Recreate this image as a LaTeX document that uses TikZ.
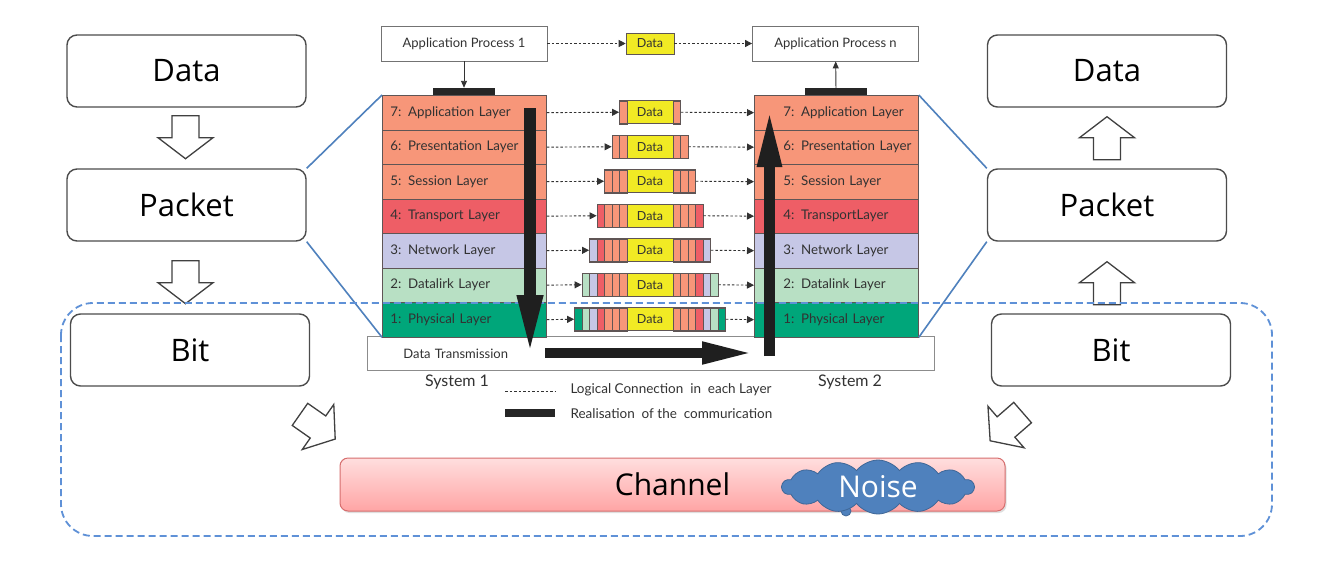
\documentclass[tikz,border=0pt]{standalone}
\usepackage{fontspec}
\setmainfont{Open Sans}
\newfontfamily\osifont{Lato}
\usetikzlibrary{arrows.meta,calc,shapes.symbols,shadows}

\definecolor{laysalmon}{RGB}{247,150,121}
\definecolor{layred}{RGB}{238,94,102}
\definecolor{laylav}{RGB}{198,199,230}
\definecolor{laymint}{RGB}{184,224,196}
\definecolor{layteal}{RGB}{0,166,122}
\definecolor{datayellow}{RGB}{241,234,36}
\definecolor{osiline}{RGB}{95,85,85}
\definecolor{ositext}{RGB}{50,50,50}
\definecolor{linkblue}{RGB}{79,129,189}
\definecolor{zoneblue}{RGB}{95,145,215}
\definecolor{noiseblue}{RGB}{79,129,189}
\definecolor{chantop}{RGB}{255,222,222}
\definecolor{chanbot}{RGB}{255,165,165}
\definecolor{chanline}{RGB}{215,110,110}
\colorlet{lay7}{laysalmon}
\colorlet{lay6}{laysalmon}
\colorlet{lay5}{laysalmon}
\colorlet{lay4}{layred}
\colorlet{lay3}{laylav}
\colorlet{lay2}{laymint}
\colorlet{lay1}{layteal}

\begin{document}
\begin{tikzpicture}[x=1pt, y=-1pt,
    stagebox/.style={draw=black!70, line width=1.4pt, rounded corners=10pt, fill=white,
        minimum width=239pt, minimum height=72pt, font=\fontsize{31}{36}\selectfont},
    blockline/.style={draw=black!75, line width=1.3pt, fill=white, line join=miter},
    hollowarrow/.pic={\draw[blockline] (-13.5,-22) -- (13.5,-22) -- (13.5,0) -- (27.5,0)
        -- (0,21) -- (-27.5,0) -- (-13.5,0) -- cycle;},
    layer/.style={draw=osiline, line width=0.8pt, minimum width=164pt, minimum height=34.5pt,
        text width=148pt, inner xsep=8pt, align=left, anchor=north west, text=ositext,
        font=\osifont\fontsize{13.3}{15}\selectfont},
    procbox/.style={draw=black!55, line width=0.8pt, fill=white, minimum width=166pt,
        minimum height=35pt, text=ositext, font=\osifont\fontsize{13}{15}\selectfont},
    core/.style={draw=osiline, line width=0.6pt, fill=datayellow, minimum width=46pt,
        minimum height=23pt, inner sep=0pt, text=ositext, font=\osifont\fontsize{12.5}{14}\selectfont},
    packet/.style={draw=osiline, line width=0.8pt, minimum height=23pt, inner sep=0pt},
    stripe/.style={draw=osiline, line width=0.5pt},
    logic/.style={draw=ositext, line width=0.9pt, dash pattern=on 2.5pt off 2pt,
        -{Triangle[length=7pt,width=7pt]}},
    feed/.style={draw=black!80, line width=0.9pt, -{Triangle[length=7pt,width=6pt]}},
    bar/.style={fill=black!85, minimum width=62pt, minimum height=7pt, inner sep=0pt},
    bigarrow/.style={draw=black!88},
    linkline/.style={draw=linkblue, line width=1.6pt},
    zone/.style={draw=zoneblue, line width=1.8pt, dash pattern=on 7pt off 4pt, rounded corners=32pt},
    syslabel/.style={text=ositext, font=\osifont\fontsize{16}{18}\selectfont},
    legendtext/.style={anchor=west, text=ositext, font=\osifont\fontsize{13.5}{15}\selectfont},
    channel/.style={draw=chanline, line width=1pt, rounded corners=8pt, top color=chantop,
        bottom color=chanbot, minimum width=665pt, minimum height=53pt,
        font=\fontsize{30}{34}\selectfont,
        drop shadow={opacity=0.25, shadow xshift=1.5pt, shadow yshift=-2pt}},
    noisecloud/.style={cloud, cloud puffs=14, cloud puff arc=105, cloud ignores aspect,
        fill=noiseblue, draw=noiseblue!80!black, line width=0.8pt, minimum width=192pt,
        minimum height=54pt, inner sep=0pt, text=white, font=\fontsize{30}{34}\selectfont}]

    \useasboundingbox (0,0) rectangle (1331,563);
    \fill[white] (0,0) rectangle (1331,563);

    % sender side
    \node[stagebox] (dataL) at (186.5,71) {Data};
    \node[stagebox] (pktL) at (186.5,205) {Packet};
    \node[stagebox] (bitL) at (190,350) {Bit};
    \pic at ($(dataL.south)+(-1,30)$) {hollowarrow};
    \pic at ($(pktL.south)+(-1,41)$) {hollowarrow};

    % receiver side
    \node[stagebox] (dataR) at (1107,71) {Data};
    \node[stagebox] (pktR) at (1107,205) {Packet};
    \node[stagebox] (bitR) at (1111,350) {Bit};
    \pic[rotate=180] at ($(dataR.south)+(0,30)$) {hollowarrow};
    \pic[rotate=180] at ($(pktR.south)+(0,41)$) {hollowarrow};

    % application processes
    \node[procbox] (ap1) at (464,43.5) {Application Process 1};
    \node[procbox] (apn) at (835.5,43.5) {Application Process n};
    \node[core, minimum width=48pt, minimum height=21pt] (d0) at (650,43.5) {Data};
    \draw[logic] (ap1) -- (d0);
    \draw[logic] (d0) -- (apn);
    \node[bar] (bar1) at (464,91.5) {};
    \node[bar] (bar2) at (836,91.5) {};
    \draw[feed] (ap1) -- (bar1);
    \draw[feed] (bar2) -- (apn);

    % transmission medium
    \node[draw=black!45, line width=0.8pt, fill=white, anchor=north west, minimum width=567pt,
        minimum height=34pt, text width=551pt, inner xsep=8pt, align=left, text=ositext,
        font=\osifont\fontsize{13}{15}\selectfont] (dt) at (367,336) {\hspace*{28pt}Data Transmission};

    % the two layer stacks
    \foreach \k/\lt/\rt [evaluate=\k as \ytop using {95+(7-\k)*34.5}] in
        {7/Application Layer/Application Layer, 6/Presentation Layer/Presentation Layer,
         5/Session Layer/Session Layer, 4/Transport Layer/TransportLayer,
         3/Network Layer/Network Layer, 2/Datalirk Layer/Datalink Layer,
         1/Physical Layer/Physical Layer} {
        \node[layer, fill=lay\k] (L\k) at (382,\ytop) {\mbox{\k: \lt}};
        \node[layer, fill=lay\k] (R\k) at (754,\ytop) {\hspace*{21pt}\mbox{\k: \rt}};
    }

    % packets with their headers
    \foreach \k in {7,...,1} {
        \pgfmathsetmacro\yc{112.25+(7-\k)*34.5}
        \foreach \j in {7,...,\k} {
            \pgfmathsetmacro\m{7-\j}
            \draw[stripe, fill=lay\j] ({627-(\m+1)*7.5},{\yc-11.5}) rectangle ({627-\m*7.5},{\yc+11.5});
            \draw[stripe, fill=lay\j] ({673+\m*7.5},{\yc-11.5}) rectangle ({673+(\m+1)*7.5},{\yc+11.5});
        }
        \node[core] (d\k) at (650,\yc) {Data};
        \node[packet, minimum width={46+2*(8-\k)*7.5}] (pk\k) at (650,\yc) {};
        \draw[logic] (L\k.east) -- (pk\k.west);
        \draw[logic] (pk\k.east) -- (R\k.west);
    }

    % links to the stacks
    \draw[linkline] (pktL.north east) -- (L7.north west);
    \draw[linkline] (pktL.south east) -- (L1.south west);
    \draw[linkline] (R7.north east) -- (pktR.north west);
    \draw[linkline] (R1.south east) -- (pktR.south west);

    % physical zone
    \draw[zone] (61,303) rectangle (1272,536);

    % realisation arrows
    \coordinate (dnA) at (530,108);
    \coordinate (dnB) at (530,357);
    \coordinate (acA) at (545,353);
    \coordinate (acB) at (755,353);
    \coordinate (upA) at (769.5,356);
    \coordinate (upB) at (769.5,108);
    \draw[bigarrow, line width=12pt, -{Triangle[length=62pt,width=23pt]}] (dnA) -- (dnB);
    \draw[bigarrow, line width=10pt, -{Triangle[length=53pt,width=20pt]}] (acA) -- (acB);
    \draw[bigarrow, line width=11pt, -{Triangle[length=59pt,width=22pt]}] (upA) -- (upB);

    \node[syslabel] (sys1) at (457,382) {System 1};
    \node[syslabel] (sys2) at (850,382) {System 2};

    % legend
    \coordinate (lgA) at (505,391);
    \coordinate (lgB) at (555,391);
    \coordinate (lgC) at (505,413);
    \coordinate (lgD) at (555,413);
    \draw[draw=ositext, line width=0.9pt, dash pattern=on 2.5pt off 2pt] (lgA) -- (lgB);
    \draw[draw=black!85, line width=8pt] (lgC) -- (lgD);
    \node[legendtext] (lg1) at (567,390) {Logical Connection \ in \ each Layer};
    \node[legendtext] (lg2) at (567,414) {Realisation \ of the \ commurication};

    % into and out of the channel
    \pic[rotate=55] at (318,427) {hollowarrow};
    \pic[rotate=-49] at (1006,427) {hollowarrow};

    % channel and noise
    \node[channel] (chan) at (672.5,484.5) {Channel};
    \filldraw[fill=noiseblue, draw=noiseblue!80!black, line width=0.8pt] (846,511) circle (5pt);
    \node[noisecloud] (noise) at (878,487) {Noise};
\end{tikzpicture}
\end{document}
